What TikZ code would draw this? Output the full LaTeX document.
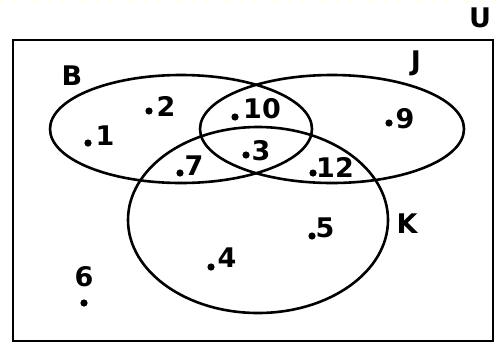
\documentclass[tikz,border=0pt]{standalone}
\usepackage{fontspec}
\setmainfont{DejaVu Sans}
\begin{document}
\begin{tikzpicture}[x=0.5pt,y=-0.5pt,line width=1.3pt,
	lbl/.style={font=\bfseries\fontsize{13.5}{15}\selectfont,inner sep=0pt},
	elem/.style={fill,circle,inner sep=0pt,minimum size=3.6pt}]
			\useasboundingbox (0,0) rectangle (496,343);
			% faint dotted line at top
			\draw[line width=0.4pt,dotted,color=yellow!25!white] (0,1.5) -- (496,1.5);
			% universe and sets
			\draw (13,40) rectangle (493,341);
			\draw (181,129) ellipse (131 and 54);
			\draw (332,129) ellipse (132 and 54);
			\draw (258,220) ellipse (130 and 93);
			% set labels
			\node[lbl] (U) at (480,18) {U};
			\node[lbl] (B) at (72,76) {B};
			\node[lbl] (J) at (416,63) {J};
			\node[lbl] (K) at (407,224) {K};
			% elements: dot and number
			\foreach \n/\dx/\dy/\lx/\ly in {1/88/143/105/136, 2/149/111/166/106,
				10/235/117/262/109, 9/389/123/405/119, 3/246/155/261/151,
				7/180/173/194/166, 12/313/173/335/167, 5/312/236/325/228,
				4/211/267/227/258, 6/84/303/84/277}{
				\node[elem] (d\n) at (\dx,\dy) {};
				\node[lbl] (n\n) at (\lx,\ly) {\n};
			}
\end{tikzpicture}
\end{document}
